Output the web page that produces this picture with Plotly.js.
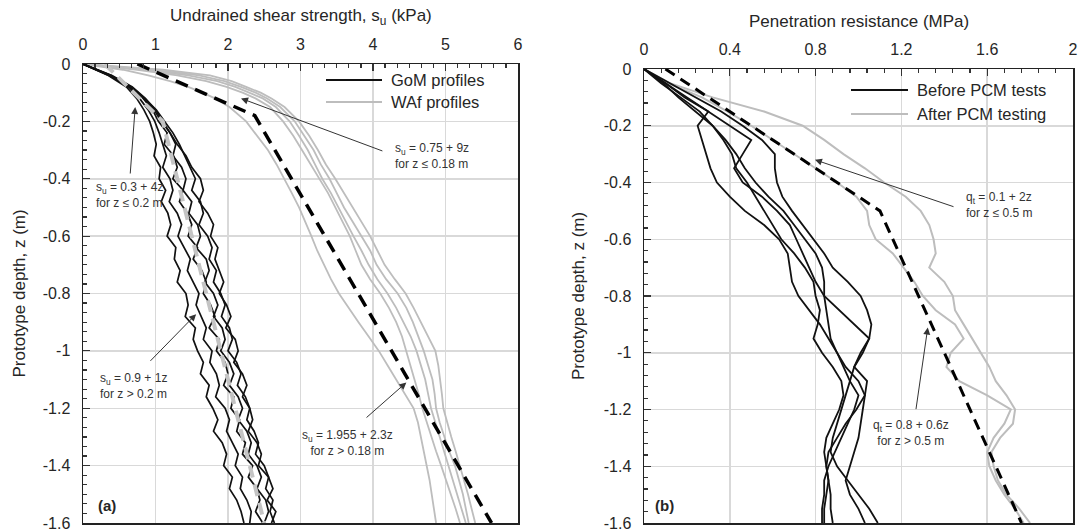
<!DOCTYPE html>
<html>
<head>
<meta charset="utf-8">
<script src="https://cdn.plot.ly/plotly-3.0.1.min.js"></script>
<style>html,body{margin:0;padding:0;background:#fff;}#chart{width:1079px;height:529px;}</style>
</head>
<body>
<div id="chart"></div>
<script>
// ---------- Panel (a): undrained shear strength ----------
const gomDepth = [0,-0.04,-0.08,-0.12,-0.16,-0.2,-0.24,-0.28,-0.32,-0.36,-0.4,-0.44,-0.48,-0.52,-0.56,-0.6,-0.64,-0.68,-0.72,-0.76,-0.8,-0.84,-0.88,-0.92,-0.96,-1,-1.04,-1.08,-1.12,-1.16,-1.2,-1.24,-1.28,-1.32,-1.36,-1.4,-1.44,-1.48,-1.52,-1.56,-1.6];
const gomA = [0,0.35,0.60,0.74,0.84,0.92,0.97,1.01,0.98,1.07,1.05,1.14,1.08,1.17,1.21,1.16,1.28,1.26,1.34,1.30,1.42,1.45,1.41,1.55,1.52,1.58,1.66,1.62,1.74,1.70,1.79,1.86,1.80,1.92,1.98,1.94,2.06,2.02,2.12,2.18,2.22];
const gomB = [0,0.39,0.63,0.78,0.90,0.99,1.05,1.10,1.15,1.10,1.20,1.24,1.19,1.30,1.36,1.31,1.40,1.48,1.44,1.52,1.60,1.56,1.63,1.70,1.66,1.78,1.75,1.84,1.88,1.83,1.96,2.02,1.98,2.06,2.14,2.10,2.20,2.17,2.26,2.32,2.30];
const gomC = [0,0.37,0.66,0.83,0.96,1.04,1.16,1.12,1.25,1.30,1.24,1.38,1.33,1.44,1.50,1.45,1.58,1.52,1.64,1.70,1.66,1.76,1.82,1.74,1.88,1.84,1.96,2.00,1.94,2.08,2.04,2.16,2.12,2.24,2.20,2.34,2.28,2.40,2.44,2.38,2.48];
const gomD = [0,0.40,0.68,0.86,1.00,1.10,1.20,1.28,1.24,1.36,1.42,1.38,1.50,1.46,1.58,1.62,1.56,1.70,1.74,1.68,1.80,1.86,1.80,1.92,1.96,1.90,2.02,2.08,2.02,2.14,2.20,2.14,2.26,2.32,2.28,2.40,2.46,2.40,2.52,2.56,2.50];
const gomE = [0,0.38,0.67,0.85,1.01,1.12,1.24,1.33,1.40,1.48,1.55,1.50,1.62,1.66,1.60,1.72,1.78,1.74,1.84,1.80,1.90,1.96,1.91,2.02,2.06,2.00,2.12,2.18,2.13,2.24,2.30,2.26,2.36,2.42,2.38,2.50,2.56,2.52,2.62,2.58,2.64];
const gomF = [0,0.36,0.64,0.84,0.98,1.08,1.20,1.30,1.42,1.50,1.62,1.66,1.60,1.72,1.80,1.76,1.86,1.82,1.88,1.94,1.88,1.98,2.04,1.97,2.10,2.14,2.08,2.20,2.26,2.20,2.30,2.34,2.28,2.40,2.46,2.42,2.56,2.62,2.54,2.66,2.60];
const gomProfiles = [gomA, gomB, gomC, gomD, gomE, gomF];

const wafDepth = [0,-0.01,-0.02,-0.04,-0.06,-0.08,-0.10,-0.12,-0.15,-0.20,-0.25,-0.30,-0.35,-0.40,-0.45,-0.50,-0.55,-0.60,-0.65,-0.70,-0.75,-0.80,-0.85,-0.90,-0.95,-1.00,-1.05,-1.10,-1.15,-1.20,-1.25,-1.30,-1.35,-1.40,-1.45,-1.50,-1.55,-1.60];
const wafL = [0,0.3,0.55,0.9,1.2,1.45,1.65,1.82,2.02,2.25,2.40,2.55,2.67,2.78,2.88,2.98,3.07,3.15,3.23,3.32,3.42,3.53,3.66,3.8,3.94,4.08,4.2,4.32,4.44,4.56,4.62,4.66,4.7,4.75,4.78,4.81,4.84,4.87];
const wafB = [0,0.4,0.75,1.3,1.7,1.98,2.2,2.38,2.58,2.76,2.9,3.02,3.14,3.27,3.38,3.48,3.58,3.68,3.76,3.84,3.96,4.1,4.22,4.32,4.4,4.46,4.52,4.58,4.63,4.68,4.74,4.8,4.87,4.94,5.01,5.08,5.14,5.2];
const wafC = [0,0.45,0.85,1.45,1.85,2.1,2.3,2.48,2.66,2.85,2.98,3.1,3.2,3.3,3.42,3.52,3.62,3.73,3.84,3.94,4.06,4.2,4.32,4.42,4.52,4.6,4.66,4.72,4.76,4.8,4.86,4.92,4.98,5.05,5.11,5.17,5.23,5.28];
const wafD = [0,0.5,0.95,1.6,1.95,2.18,2.38,2.54,2.72,2.92,3.05,3.18,3.28,3.4,3.5,3.6,3.72,3.84,3.96,4.05,4.18,4.34,4.46,4.55,4.63,4.7,4.76,4.82,4.85,4.87,4.92,4.98,5.05,5.13,5.19,5.24,5.28,5.32];
const wafE = [0,0.6,1.1,1.75,2.05,2.25,2.45,2.6,2.78,2.98,3.12,3.24,3.35,3.48,3.6,3.72,3.84,3.96,4.06,4.16,4.3,4.45,4.56,4.66,4.76,4.86,4.9,4.93,4.95,4.97,5.02,5.08,5.14,5.2,5.26,5.31,5.36,5.41];
const wafProfiles = [wafL, wafB, wafC, wafD, wafE];

const gomFitDepth = [0, -0.2, -1.6];
const gomFitSu = [0.3, 1.1, 2.5];
const wafFitDepth = [0, -0.18, -1.6];
const wafFitSu = [0.75, 2.37, 5.635];

const suTickVals = [0,1,2,3,4,5,6];
const suTickText = ["0","1","2","3","4","5","6"];

// ---------- Panel (b): penetration resistance ----------
const pcmDepth = [0,-0.05,-0.1,-0.15,-0.2,-0.25,-0.3,-0.35,-0.4,-0.45,-0.5,-0.55,-0.6,-0.65,-0.7,-0.75,-0.8,-0.85,-0.9,-0.95,-1,-1.05,-1.1,-1.15,-1.2,-1.25,-1.3,-1.35,-1.4,-1.45,-1.5,-1.55,-1.6];
const before1 = [0,0.10,0.19,0.30,0.25,0.27,0.29,0.31,0.34,0.40,0.47,0.56,0.63,0.67,0.68,0.69,0.72,0.77,0.82,0.86,0.90,0.93,0.96,1.00,0.98,0.95,0.92,0.89,0.86,0.84,0.84,0.83,0.83];
const before2 = [0,0.10,0.20,0.30,0.40,0.50,0.46,0.42,0.46,0.55,0.62,0.68,0.71,0.74,0.77,0.80,0.84,0.91,0.98,1.05,1.02,0.98,1.04,1.03,0.99,0.94,0.90,0.86,0.85,0.86,0.87,0.87,0.88];
const before3 = [0,0.12,0.24,0.36,0.46,0.55,0.61,0.61,0.62,0.645,0.69,0.74,0.79,0.84,0.88,0.95,1.01,1.04,1.06,1.05,1.01,0.98,0.96,0.94,0.92,0.90,0.88,0.87,0.90,0.95,1.00,1.05,1.09];
const before4 = [0,0.09,0.16,0.24,0.32,0.38,0.43,0.47,0.52,0.58,0.65,0.70,0.75,0.80,0.83,0.84,0.84,0.85,0.86,0.87,0.90,0.94,1.00,1.03,1.02,1.01,1.00,0.98,0.96,0.94,0.96,1.00,1.03];
const before5 = [0,0.08,0.17,0.26,0.32,0.37,0.41,0.43,0.48,0.52,0.56,0.60,0.64,0.70,0.75,0.79,0.80,0.82,0.81,0.79,0.83,0.88,0.92,0.93,0.91,0.88,0.85,0.84,0.85,0.86,0.85,0.84,0.84];
const beforeProfiles = [before1, before2, before3, before4, before5];
const after1 = [0,0.12,0.32,0.56,0.74,0.84,0.93,1.03,1.12,1.22,1.29,1.33,1.35,1.36,1.33,1.40,1.44,1.45,1.49,1.53,1.57,1.61,1.64,1.69,1.73,1.72,1.66,1.62,1.63,1.65,1.69,1.75,1.80];
const after2 = [0,0.11,0.27,0.39,0.50,0.60,0.70,0.80,0.90,0.99,1.04,1.05,1.08,1.16,1.21,1.26,1.30,1.36,1.45,1.49,1.43,1.41,1.47,1.60,1.71,1.68,1.63,1.60,1.61,1.64,1.68,1.73,1.77];
const afterProfiles = [after1, after2];
const pcmFitDepth = [0, -0.5, -1.6];
const pcmFitQt = [0.1, 1.1, 1.76];

const qtTickVals = [0,0.4,0.8,1.2,1.6,2];
const qtTickText = ["0","0.4","0.8","1.2","1.6","2"];
const depthTickVals = [0,-0.2,-0.4,-0.6,-0.8,-1,-1.2,-1.4,-1.6];
const depthTickText = ["0","-0.2","-0.4","-0.6","-0.8","-1","-1.2","-1.4","-1.6"];

// ---------- styles ----------
const FONT = "Liberation Sans, Arial, Helvetica, sans-serif";
const TXT = "#262626";
const GRAY = "#bdbdbd";
const traces = [];

wafProfiles.forEach(p => traces.push({x: p, y: wafDepth, xaxis:'x', yaxis:'y', mode:'lines',
  line:{color:GRAY, width:1.8}, showlegend:false, hoverinfo:'skip'}));
gomProfiles.forEach(p => traces.push({x: p, y: gomDepth, xaxis:'x', yaxis:'y', mode:'lines',
  line:{color:'#111', width:1.7}, showlegend:false, hoverinfo:'skip'}));
traces.push({x: gomFitSu, y: gomFitDepth, xaxis:'x', yaxis:'y', mode:'lines',
  line:{color:'#c4c4c4', width:4, dash:'12px,7px'}, showlegend:false, hoverinfo:'skip'});
traces.push({x: wafFitSu, y: wafFitDepth, xaxis:'x', yaxis:'y', mode:'lines',
  line:{color:'#000', width:3.5, dash:'13px,8px'}, showlegend:false, hoverinfo:'skip'});

afterProfiles.forEach(p => traces.push({x: p, y: pcmDepth, xaxis:'x2', yaxis:'y2', mode:'lines',
  line:{color:GRAY, width:2}, showlegend:false, hoverinfo:'skip'}));
beforeProfiles.forEach(p => traces.push({x: p, y: pcmDepth, xaxis:'x2', yaxis:'y2', mode:'lines',
  line:{color:'#111', width:1.8}, showlegend:false, hoverinfo:'skip'}));
traces.push({x: pcmFitQt, y: pcmFitDepth, xaxis:'x2', yaxis:'y2', mode:'lines',
  line:{color:'#000', width:3, dash:'11px,7px'}, showlegend:false, hoverinfo:'skip'});

function xAxis(domain, range, vals, text, minorDtick, anchor){
  return {domain, range, anchor, side:'top', tickmode:'array', tickvals:vals, ticktext:text,
    ticks:'inside', ticklen:7, tickwidth:1.2, tickcolor:'#333', ticklabelstandoff:6, ticklabeloverflow:'allow',
    tickfont:{family:FONT, size:16, color:TXT},
    showgrid:true, gridcolor:'#d9d9d9', gridwidth:1.5, zeroline:false,
    showline:true, linecolor:'#222', linewidth:1.5, mirror:true, fixedrange:true,
    minor:{ticks:'inside', ticklen:4, tickwidth:1.2, tickcolor:'#333', dtick:minorDtick, tick0:0, showgrid:false}};
}
function yAxis(domain, minorDtick, anchor){
  return {domain, range:[-1.6,0], anchor, tickmode:'array', tickvals:depthTickVals, ticktext:depthTickText,
    ticks:'inside', ticklen:7, tickwidth:1.2, tickcolor:'#333', ticklabelstandoff:8, ticklabeloverflow:'allow',
    tickfont:{family:FONT, size:16, color:TXT},
    showgrid:true, gridcolor:'#d9d9d9', gridwidth:1.5, zeroline:false,
    showline:true, linecolor:'#222', linewidth:1.5, mirror:true, fixedrange:true,
    minor:{ticks:'inside', ticklen:4, tickwidth:1.2, tickcolor:'#333', dtick:minorDtick, tick0:0, showgrid:false}};
}

const W = 1079, H = 529;
const px = v => v / W, py = v => 1 - v / H;

const annFont = {family:FONT, size:12, color:'#333'};
function txt(x, y, text, xref, yref, xanchor, align){
  return {x, y, xref, yref, text, showarrow:false, xanchor, yanchor:'middle', align, font:annFont};
}
function arrow(hx, hy, tx, ty, xr, yr){
  return {x:hx, y:hy, ax:tx, ay:ty, xref:xr, yref:yr, axref:xr, ayref:yr, text:'', showarrow:true,
    arrowhead:2, arrowsize:1.4, arrowwidth:1, arrowcolor:'#333', standoff:0, startstandoff:0};
}

const annotations = [
  {x:px(300.5), y:py(17), xref:'paper', yref:'paper', showarrow:false, xanchor:'center', yanchor:'middle',
   text:'Undrained shear strength, s<sub>u</sub> (kPa)', font:{family:FONT, size:17, color:TXT}},
  {x:px(858.5), y:py(22), xref:'paper', yref:'paper', showarrow:false, xanchor:'center', yanchor:'middle',
   text:'Penetration resistance (MPa)', font:{family:FONT, size:17, color:TXT}},
  {x:px(19), y:py(293.5), xref:'paper', yref:'paper', showarrow:false, textangle:-90, xanchor:'center', yanchor:'middle',
   text:'Prototype depth, z (m)', font:{family:FONT, size:17, color:TXT}},
  {x:px(578), y:py(296), xref:'paper', yref:'paper', showarrow:false, textangle:-90, xanchor:'center', yanchor:'middle',
   text:'Prototype depth, z (m)', font:{family:FONT, size:17, color:TXT}},
  {x:px(389), y:py(80), xref:'paper', yref:'paper', showarrow:false, xanchor:'left', yanchor:'middle',
   text:'GoM profiles', font:{family:FONT, size:16.5, color:TXT}},
  {x:px(389), y:py(102), xref:'paper', yref:'paper', showarrow:false, xanchor:'left', yanchor:'middle',
   text:'WAf profiles', font:{family:FONT, size:16.5, color:TXT}},
  {x:px(915), y:py(90), xref:'paper', yref:'paper', showarrow:false, xanchor:'left', yanchor:'middle',
   text:'Before PCM tests', font:{family:FONT, size:16.5, color:TXT}},
  {x:px(915), y:py(114), xref:'paper', yref:'paper', showarrow:false, xanchor:'left', yanchor:'middle',
   text:'After PCM testing', font:{family:FONT, size:16.5, color:TXT}},
  txt(4.28, -0.32, 's<sub>u</sub> = 0.75 + 9z<br>for z ≤ 0.18 m', 'x', 'y', 'left', 'left'),
  arrow(2.18, -0.12, 4.15, -0.305, 'x', 'y'),
  txt(0.15, -0.457, 's<sub>u</sub> = 0.3 + 4z<br>for z ≤ 0.2 m', 'x', 'y', 'left', 'left'),
  arrow(0.72, -0.15, 0.65, -0.387, 'x', 'y'),
  txt(0.2, -1.124, 's<sub>u</sub> = 0.9 + 1z<br>for z > 0.2 m', 'x', 'y', 'left', 'left'),
  arrow(1.56, -0.872, 0.91, -1.04, 'x', 'y'),
  txt(3.65, -1.32, 's<sub>u</sub> = 1.955 + 2.3z<br>for z > 0.18 m', 'x', 'y', 'center', 'center'),
  arrow(4.46, -1.11, 3.89, -1.237, 'x', 'y'),
  {x:0.18, y:-1.54, xref:'x', yref:'y', text:'<b>(a)</b>', showarrow:false, xanchor:'left', yanchor:'middle',
   font:{family:FONT, size:15, color:TXT}},
  txt(1.49, -0.478, 'q<sub>t</sub> = 0.1 + 2z<br>for z ≤ 0.5 m', 'x2', 'y2', 'left', 'left'),
  arrow(0.797, -0.32, 1.45, -0.487, 'x2', 'y2'),
  txt(1.243, -1.284, 'q<sub>t</sub> = 0.8 + 0.6z<br>for z > 0.5 m', 'x2', 'y2', 'center', 'center'),
  arrow(1.323, -0.911, 1.267, -1.204, 'x2', 'y2'),
  {x:0.04, y:-1.54, xref:'x2', yref:'y2', text:'<b>(b)</b>', showarrow:false, xanchor:'left', yanchor:'middle',
   font:{family:FONT, size:15, color:TXT}}
];

const shapes = [
  {type:'rect', xref:'x', yref:'y', x0:3.3, x1:6, y0:0, y1:-0.16, fillcolor:'#fff', line:{width:0}, layer:'below'},
  {type:'rect', xref:'x2', yref:'y2', x0:0.95, x1:2, y0:0, y1:-0.19, fillcolor:'#fff', line:{width:0}, layer:'below'},
  {type:'line', xref:'paper', yref:'paper', x0:px(326), x1:px(382), y0:py(80), y1:py(80), line:{color:'#111', width:2}},
  {type:'line', xref:'paper', yref:'paper', x0:px(326), x1:px(382), y0:py(102), y1:py(102), line:{color:GRAY, width:2}},
  {type:'line', xref:'paper', yref:'paper', x0:px(851), x1:px(908), y0:py(90), y1:py(90), line:{color:'#111', width:2}},
  {type:'line', xref:'paper', yref:'paper', x0:px(851), x1:px(908), y0:py(114), y1:py(114), line:{color:GRAY, width:2}}
];

const layout = {
  width:W, height:H, margin:{l:0, r:0, t:0, b:0}, paper_bgcolor:'#fff', plot_bgcolor:'#fff',
  showlegend:false, font:{family:FONT, color:TXT},
  xaxis: xAxis([px(83), px(518)], [0,6], suTickVals, suTickText, 1/6, 'y'),
  yaxis: yAxis([py(523), py(64)], 0.2/6, 'x'),
  xaxis2: xAxis([px(644), px(1073)], [0,2], qtTickVals, qtTickText, 0.08, 'y2'),
  yaxis2: yAxis([py(523), py(69)], 0.04, 'x2'),
  annotations, shapes
};

Plotly.newPlot('chart', traces, layout, {displayModeBar:false, staticPlot:true});
</script>
</body>
</html>
